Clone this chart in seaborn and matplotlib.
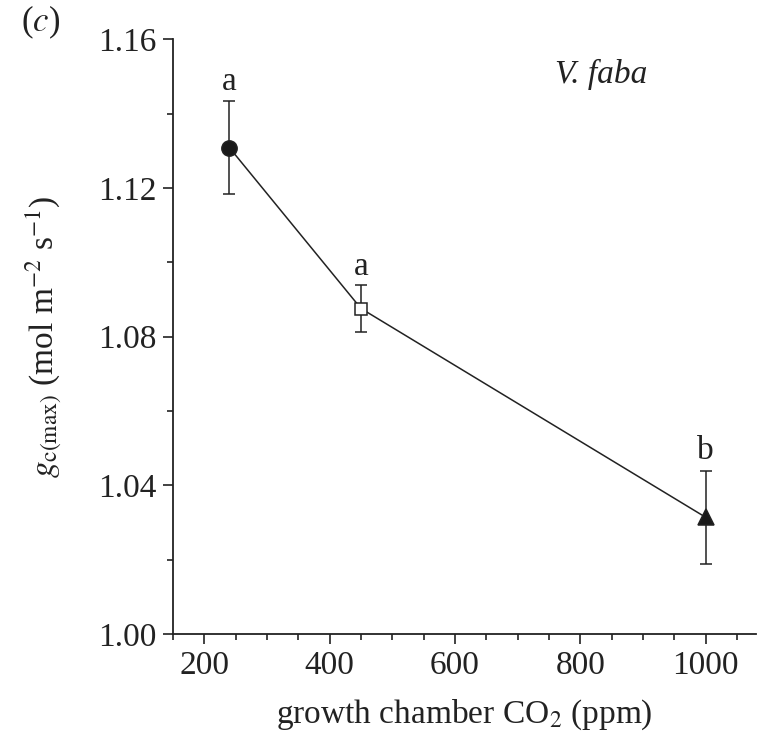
import matplotlib
matplotlib.use("Agg")
import matplotlib.pyplot as plt
import seaborn as sns
import pandas as pd
from matplotlib.ticker import MultipleLocator, FormatStrFormatter

# data
co2 = [240, 450, 1000]
gc_max = [1.1309, 1.0876, 1.0314]
err = [0.0125, 0.0062, 0.0125]
letters = ["a", "a", "b"]
markers = ["o", "s", "^"]
facecolors = ["#1a1a1a", "white", "#1a1a1a"]
marker_sizes = [11, 8.5, 12]
letter_y = [1.1487, 1.0988, 1.0494]

sns.set_theme(style="ticks")
plt.rcParams["font.family"] = ["Liberation Serif", "DejaVu Serif"]
plt.rcParams["mathtext.fontset"] = "stix"

df = pd.DataFrame({"co2": co2, "gc": gc_max})

fig = plt.figure(figsize=(7.57, 7.45), dpi=100)
ax = fig.add_axes([0.2285, 0.149, 0.770, 0.798])

ink = "#222222"
sns.lineplot(data=df, x="co2", y="gc", ax=ax, color=ink, linewidth=1.1, zorder=2)
for x, y, e, m, fc, ms in zip(co2, gc_max, err, markers, facecolors, marker_sizes):
    ax.errorbar(x, y, yerr=e, fmt="none", ecolor=ink, elinewidth=1.1,
                capsize=4.5, capthick=1.1, zorder=3)
    ax.plot(x, y, marker=m, markersize=ms, markerfacecolor=fc,
            markeredgecolor=ink, markeredgewidth=1.1, linestyle="none", zorder=4)
for x, ly, t in zip(co2, letter_y, letters):
    ax.text(x, ly, t, ha="center", va="center", fontsize=24, color=ink)

ax.set_xlim(150, 1080)
ax.set_ylim(1.00, 1.16)
ax.xaxis.set_major_locator(MultipleLocator(200))
ax.xaxis.set_minor_locator(MultipleLocator(50))
ax.yaxis.set_major_locator(MultipleLocator(0.04))
ax.yaxis.set_minor_locator(MultipleLocator(0.02))
ax.set_xticks([200, 400, 600, 800, 1000])
ax.yaxis.set_major_formatter(FormatStrFormatter("%.2f"))

sns.despine(ax=ax)
for s in ["left", "bottom"]:
    ax.spines[s].set_color(ink)
    ax.spines[s].set_linewidth(1.3)
ax.tick_params(which="major", length=7, width=1.2, color=ink, labelsize=24,
               labelcolor=ink, direction="out", pad=5)
ax.tick_params(which="minor", length=4.5, width=1.2, color=ink, direction="out")

ax.set_xlabel(r"growth chamber CO$_2$ (ppm)", fontsize=24, color=ink, labelpad=12)
ax.set_ylabel(r"$g_{\mathrm{c(max)}}$ (mol m$^{-2}$ s$^{-1}$)", fontsize=24,
              color=ink, labelpad=24)

ax.text(833, 1.1506, "V. faba", fontsize=24, style="italic", ha="center",
        va="center", color=ink)
fig.text(0.053, 0.970, r"($c$)", fontsize=25, ha="center", va="center", color=ink)

fig.savefig("out.png", dpi=100)
